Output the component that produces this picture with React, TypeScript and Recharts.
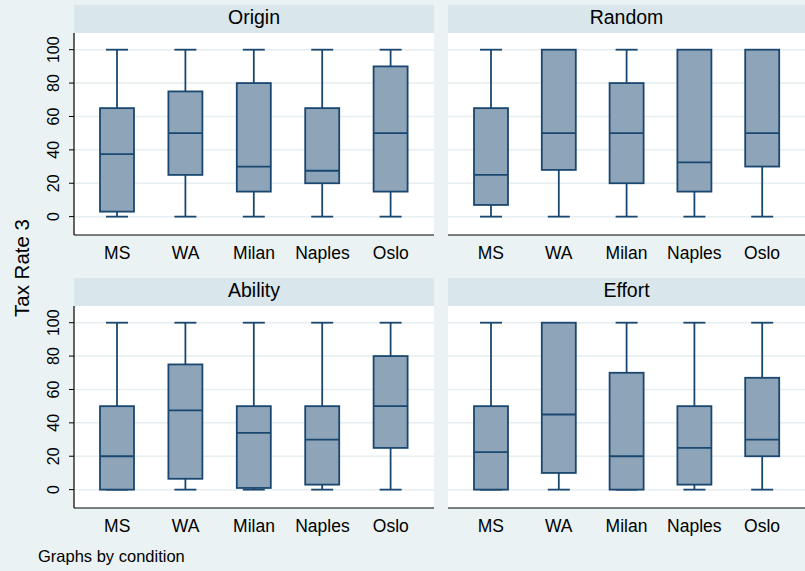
import React from 'react';
import { ComposedChart, Bar, XAxis, YAxis, CartesianGrid } from 'recharts';

const categories = ['MS', 'WA', 'Milan', 'Naples', 'Oslo'];
const yTicks = [0, 20, 40, 60, 80, 100];

// each row: [lower whisker, Q1, median, Q3, upper whisker]
const origin = [
  [0, 3, 37.5, 65, 100],
  [0, 25, 50, 75, 100],
  [0, 15, 30, 80, 100],
  [0, 20, 27.5, 65, 100],
  [0, 15, 50, 90, 100],
];
const random = [
  [0, 7, 25, 65, 100],
  [0, 28, 50, 100, 100],
  [0, 20, 50, 80, 100],
  [0, 15, 32.5, 100, 100],
  [0, 30, 50, 100, 100],
];
const ability = [
  [0, 0, 20, 50, 100],
  [0, 6.5, 47.5, 75, 100],
  [0, 1, 34, 50, 100],
  [0, 3, 30, 50, 100],
  [0, 25, 50, 80, 100],
];
const effort = [
  [0, 0, 22.5, 50, 100],
  [0, 10, 45, 100, 100],
  [0, 0, 20, 70, 100],
  [0, 3, 25, 50, 100],
  [0, 20, 30, 67, 100],
];

const FONT = '"Liberation Sans", Arial, Helvetica, sans-serif';
const BG = '#eaf2f3';
const STRIP = '#d9e6eb';
const NAVY = '#1a476f';
const BOXFILL = '#8da4b9';

const toRows = (stats: number[][]) =>
  categories.map((name, i) => {
    const [lo, q1, med, q3, hi] = stats[i];
    return { name, lo, q1, med, q3, hi };
  });

const BoxShape = (props: any) => {
  const { x, y, width, height } = props;
  const d = props.payload ?? props;
  const top = Math.min(y, y + height);
  const h = Math.abs(height);
  const py = (v: number) => top + (h * (d.hi - v)) / (d.hi - d.lo);
  const cx = x + width / 2;
  const cap = 11;
  return (
    <g stroke={NAVY} strokeWidth={1.8}>
      {d.hi > d.q3 && (
        <>
          <line x1={cx} x2={cx} y1={py(d.hi)} y2={py(d.q3)} />
          <line x1={cx - cap} x2={cx + cap} y1={py(d.hi)} y2={py(d.hi)} />
        </>
      )}
      <line x1={cx} x2={cx} y1={py(d.q1)} y2={py(d.lo)} />
      <line x1={cx - cap} x2={cx + cap} y1={py(d.lo)} y2={py(d.lo)} />
      <rect x={x} y={py(d.q3)} width={width} height={py(d.q1) - py(d.q3)} fill={BOXFILL} />
      <line x1={x} x2={x + width} y1={py(d.med)} y2={py(d.med)} />
    </g>
  );
};

const YTick = (props: any) => {
  const { x, y, payload } = props;
  const tx = x - 8;
  return (
    <text
      x={tx}
      y={y}
      transform={`rotate(-90 ${tx} ${y})`}
      textAnchor="middle"
      fontSize={16}
      fontFamily={FONT}
      fill="#000"
    >
      {payload.value}
    </text>
  );
};

interface PanelProps {
  title: string;
  stats: number[][];
  left: number;
  top: number;
  width: number;
  showY: boolean;
}

const Panel: React.FC<PanelProps> = ({ title, stats, left, top, width, showY }) => {
  const data = toRows(stats);
  const chartLeft = showY ? 0 : left;
  const chartWidth = showY ? left + width : width;
  return (
    <>
      <div
        style={{
          position: 'absolute',
          left,
          top,
          width,
          height: 28,
          background: STRIP,
          textAlign: 'center',
          lineHeight: '25px',
          fontSize: 19.5,
          fontFamily: FONT,
          color: '#000',
        }}
      >
        {title}
      </div>
      <div style={{ position: 'absolute', left: chartLeft, top: top + 28 }}>
        <ComposedChart
          width={chartWidth}
          height={240}
          data={data}
          margin={{ top: 0, right: 0, bottom: 0, left: 0 }}
        >
          <CartesianGrid
            vertical={false}
            horizontalValues={yTicks}
            stroke="#e6eef1"
            strokeWidth={1.5}
            fill="#ffffff"
            fillOpacity={1}
          />
          <XAxis
            dataKey="name"
            interval={0}
            padding={{ left: 9, right: 9 }}
            height={38}
            tickLine={false}
            tickSize={6}
            tickMargin={6}
            axisLine={{ stroke: '#000', strokeWidth: 1.2 }}
            tick={{ fontSize: 17.5, fill: '#000', fontFamily: FONT }}
          />
          <YAxis
            domain={[-11, 110]}
            ticks={yTicks}
            hide={!showY}
            width={74}
            tickSize={5}
            tickMargin={2}
            tickLine={{ stroke: '#000' }}
            axisLine={{ stroke: '#000', strokeWidth: 1.2 }}
            tick={<YTick />}
          />
          <Bar
            dataKey={(d: any) => [d.lo, d.hi]}
            barSize={34}
            shape={BoxShape}
            isAnimationActive={false}
          />
        </ComposedChart>
      </div>
    </>
  );
};

export default function App() {
  return (
    <div
      style={{
        position: 'absolute',
        left: 0,
        top: 0,
        width: 805,
        height: 571,
        background: BG,
        overflow: 'hidden',
      }}
    >
      <Panel title="Origin" stats={origin} left={74} top={5} width={360} showY />
      <Panel title="Random" stats={random} left={448} top={5} width={357} showY={false} />
      <Panel title="Ability" stats={ability} left={74} top={278} width={360} showY />
      <Panel title="Effort" stats={effort} left={448} top={278} width={357} showY={false} />
      <div
        style={{
          position: 'absolute',
          left: 22 - 60,
          top: 268 - 12,
          width: 120,
          height: 24,
          lineHeight: '24px',
          textAlign: 'center',
          transform: 'rotate(-90deg)',
          fontSize: 20.5,
          fontFamily: FONT,
          color: '#000',
        }}
      >
        Tax Rate 3
      </div>
      <div
        style={{
          position: 'absolute',
          left: 38,
          top: 546,
          lineHeight: '20px',
          fontSize: 16.5,
          fontFamily: FONT,
          color: '#000',
        }}
      >
        Graphs by condition
      </div>
    </div>
  );
}
